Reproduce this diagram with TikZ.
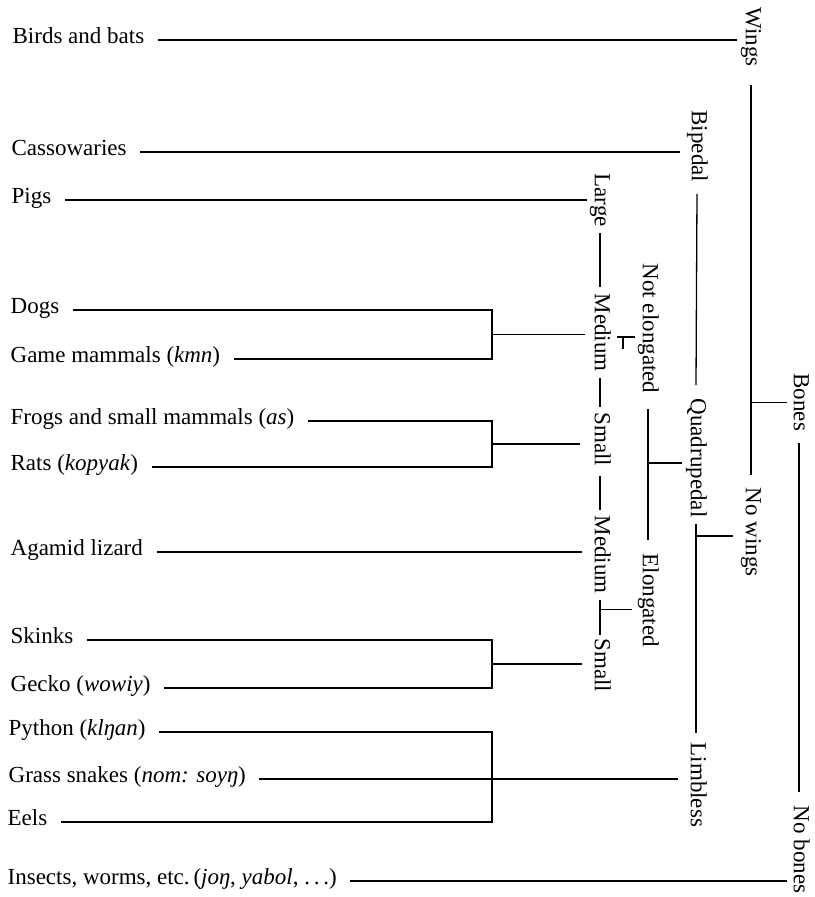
\documentclass[tikz,border=0pt]{standalone}
\usepackage{fontspec}
\setmainfont{Liberation Serif}
\usetikzlibrary{calc}
\begin{document}
\begin{tikzpicture}[x=1pt,y=-1pt,line width=1.3pt,
  lab/.style={anchor=base west,inner sep=0pt,text height=11.5pt,text depth=5.5pt,font=\fontsize{23}{27}\selectfont},
  rot/.style={anchor=west,rotate=-90,inner sep=0pt,text height=15pt,text depth=4.6pt,font=\fontsize{23}{27}\selectfont},
  gapl/.style={shorten <=13pt}]
\useasboundingbox (0,0) rectangle (814,897);

% left labels
\node[lab] (birds)   at (12,43)  {Birds and bats};
\node[lab] (cass)    at (11,155) {Cassowaries};
\node[lab] (pigs)    at (11,203) {Pigs};
\node[lab] (dogs)    at (10,313) {Dogs};
\node[lab] (game)    at (10,362) {Game mammals (\textit{kmn})};
\node[lab] (frogs)   at (10,424) {Frogs and small mammals (\textit{as})};
\node[lab] (rats)    at (10,470) {Rats (\textit{kopyak})};
\node[lab] (agamid)  at (10,555) {Agamid lizard};
\node[lab] (skinks)  at (10,643) {Skinks};
\node[lab] (gecko)   at (10,691) {Gecko (\textit{wowiy})};
\node[lab] (python)  at (8,735)  {Python (\textit{klŋan})};
\node[lab] (grass)   at (8,782)  {Grass snakes (\textit{nom: soyŋ})};
\node[lab] (eels)    at (7,825)  {Eels};
\node[lab] (insects) at (7,884)  {Insects, worms, etc.\,(\textit{joŋ}, \textit{yabol}, .\,.\,.)};

% rotated labels
\node[rot] (wings)   at (751,7)   {Wings};
\node[rot] (bip)     at (697,110) {Bipedal};
\node[rot] (large)   at (600,173) {Large};
\node[rot] (meda)    at (600,293) {Medium};
\node[rot] (notel)   at (648,263) {Not elongated};
\node[rot] (smalla)  at (600,412) {Small};
\node[rot] (medb)    at (600,515) {Medium};
\node[rot] (smallb)  at (600,638) {Small};
\node[rot] (elong)   at (648,553) {Elongated};
\node[rot] (quad)    at (696,398) {Quadrupedal};
\node[rot] (nowings) at (751,487) {No wings};
\node[rot] (limb)    at (696,742) {Limbless};
\node[rot] (bones)   at (799,373) {Bones};
\node[rot] (nobones) at (799,805) {No bones};

% straight leaders
\draw[gapl] (birds.east) -- ($(birds.east -| wings.center)+(-14,0)$);
\draw[gapl] (cass.east) -- ($(cass.east -| bip.center)+(-17,0)$);
\draw[gapl] (pigs.east) -- ($(pigs.east -| large.center)+(-13,0)$);
\draw[gapl] (agamid.east) -- ($(agamid.east -| medb.center)+(-18,0)$);
\draw[gapl] (grass.east) -- ($(grass.east -| limb.center)+(-18,0)$);
\draw[gapl] (insects.east) -- ($(insects.east -| nobones.center)+(-12,0)$);

% brackets
\coordinate (bx) at (492,0);
\draw[shorten <=13pt,shorten >=13pt] (dogs.east) -- (dogs.east -| bx) -- (game.east -| bx) -- (game.east);
\draw[shorten <=13pt,shorten >=13pt] (frogs.east) -- (frogs.east -| bx) -- (rats.east -| bx) -- (rats.east);
\draw[shorten <=13pt,shorten >=13pt] (skinks.east) -- (skinks.east -| bx) -- (gecko.east -| bx) -- (gecko.east);
\draw[shorten <=13pt,shorten >=13pt] (python.east) -- (python.east -| bx) -- (eels.east -| bx) -- (eels.east);

\coordinate (m1) at ($(dogs.east -| bx)!0.5!(game.east -| bx)$);
\draw (m1) -- ($(m1 -| meda.center)+(-15,0)$);
\coordinate (m2) at ($(frogs.east -| bx)!0.5!(rats.east -| bx)$);
\draw (m2) -- ($(m2 -| smalla.center)+(-20,0)$);
\coordinate (m3) at ($(skinks.east -| bx)!0.5!(gecko.east -| bx)$);
\draw (m3) -- ($(m3 -| smallb.center)+(-18,0)$);

% column: Large / Medium / Small
\draw ($(large.east)+(0,5)$) -- ($(meda.west)+(0,-6)$);
\draw ($(meda.east)+(0,6)$) -- ($(smalla.west)+(0,-5)$);
\draw ($(smalla.east)+(0,9)$) -- ($(medb.west)+(0,-5)$);
\draw ($(medb.east)+(0,6)$) -- ($(smallb.west)+(0,-3)$);
\coordinate (j1) at ($(medb.east)+(0,15)$);
\draw (j1) -- ($(j1 -| elong.center)+(-16,0)$);
\draw (617,337) -- (635,337);
\draw (623,337) -- (623,349);

% column: Not elongated / Elongated
\draw ($(notel.east)+(0,15)$) -- ($(elong.west)+(0,-13)$);
\coordinate (j2) at ($(quad.center)+(-14,5)$);
\draw (j2 -| notel.center) -- (j2);

% column: Bipedal / Quadrupedal / Limbless
\draw ($(bip.east)+(0,11)$) -- ($(quad.west)+(0,-13)$);
\draw ($(quad.east)+(0,6)$) -- ($(limb.west)+(0,-9)$);
\coordinate (j3) at ($(nowings.center)+(-18,4)$);
\draw (j3 -| quad.center) -- (j3);

% column: Wings / No wings
\draw ($(wings.east)+(0,18)$) -- ($(nowings.west)+(0,-12)$);
\coordinate (j4) at ($(bones.center)+(-12,0)$);
\draw (j4 -| wings.center) -- (j4);

% column: Bones / No bones
\draw ($(bones.east)+(0,11)$) -- ($(nobones.west)+(0,-13)$);
\end{tikzpicture}
\end{document}
